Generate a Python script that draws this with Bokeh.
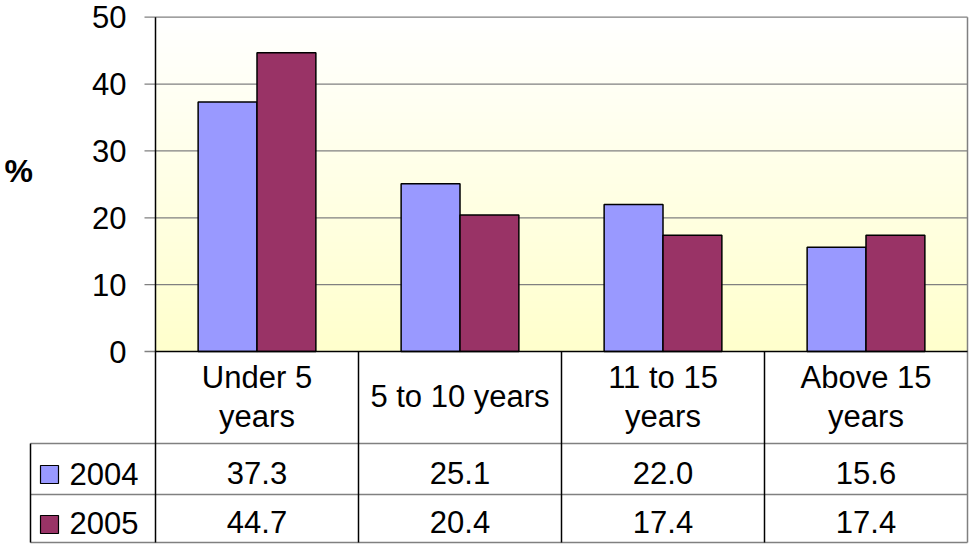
import numpy as np
from bokeh.plotting import figure
from bokeh.models import Range1d
from bokeh.core.properties import value
from bokeh.embed import file_html
from bokeh.resources import INLINE

# ---------------- data ----------------
categories = ["Under 5 years", "5 to 10 years", "11 to 15 years", "Above 15 years"]
category_lines = [["Under 5", "years"], ["5 to 10 years"], ["11 to 15", "years"], ["Above 15", "years"]]
series_names = ["2004", "2005"]
values_2004 = [37.3, 25.1, 22.0, 15.6]
values_2005 = [44.7, 20.4, 17.4, 17.4]
y_ticks = [0, 10, 20, 30, 40, 50]

# ---------------- style / geometry ----------------
FONT = value("Liberation Sans")
FS = "31px"
BLUE = "#9999FF"
RED = "#993366"
GREY = "#808080"

W, H = 969, 545
X0_PX, Y0_PX = 155.0, 351.0      # pixel position of (0, 0)
PX_X = 203.0                     # pixels per category
PX_Y = (351.0 - 16.7) / 50.0     # pixels per % unit
n = len(categories)


def tx(px):
    return (px - X0_PX) / PX_X


def ty(px):
    return (Y0_PX - px) / PX_Y


p = figure(width=W, height=H, output_backend="svg", toolbar_location=None,
           x_range=Range1d(tx(0), tx(W)), y_range=Range1d(ty(H), ty(0)),
           x_axis_location=None, y_axis_location=None,
           min_border_left=0, min_border_right=0, min_border_top=0, min_border_bottom=0)
p.outline_line_color = None
p.background_fill_color = "white"
p.border_fill_color = "white"
p.center = []   # drop default grids

# gradient background of the plot area
N = 200
img = np.empty((N, 1), dtype=np.uint32)
view = img.view(dtype=np.uint8).reshape((N, 1, 4))
for i in range(N):
    f = i / (N - 1)  # 0 bottom, 1 top
    view[i, 0, 0] = 255
    view[i, 0, 1] = 255
    view[i, 0, 2] = int(round(204 + (255 - 204) * f))
    view[i, 0, 3] = 255
p.image_rgba(image=[img], x=0, y=0, dw=n, dh=max(y_ticks), level="image")

# horizontal gridlines and tick marks (tick marks stick out left of the value axis)
grid_y = y_ticks[1:]
p.segment(x0=[tx(144)] * len(grid_y), y0=grid_y, x1=[n] * len(grid_y), y1=grid_y,
          line_color=GREY, line_width=1.3)
p.segment(x0=[tx(144)], y0=[0], x1=[0], y1=[0], line_color=GREY, line_width=1.3)

# bars
idx = np.arange(n)
bw = 0.29
p.vbar(x=idx + 0.5 - bw / 2, top=values_2004, width=bw, bottom=0,
       fill_color=BLUE, line_color="black", line_width=1.5)
p.vbar(x=idx + 0.5 + bw / 2, top=values_2005, width=bw, bottom=0,
       fill_color=RED, line_color="black", line_width=1.5)

# value axis labels
p.text(x=[tx(126)] * len(y_ticks), y=y_ticks, text=[str(v) for v in y_ticks], text_font=FONT,
       text_font_size=FS, text_align="right", text_baseline="middle", text_color="black")
p.text(x=[tx(4)], y=[ty(170)], text=["%"], text_font=FONT, text_font_size="32px",
       text_font_style="bold", text_align="left", text_baseline="middle", text_color="black")

# table geometry (pixels)
tab_left, row1, row2, row3 = 30, 443, 494, 542

# plot-area right border / table right edge
p.segment(x0=[n], y0=[max(y_ticks)], x1=[n], y1=[ty(row3)], line_color=GREY, line_width=1.5)
# table horizontal rules
p.segment(x0=[tx(tab_left)] * 3, y0=[ty(row1), ty(row2), ty(row3)], x1=[n] * 3,
          y1=[ty(row1), ty(row2), ty(row3)], line_color=GREY, line_width=1.5)
# category dividers
p.segment(x0=list(range(1, n)), y0=[0] * (n - 1), x1=list(range(1, n)), y1=[ty(row3)] * (n - 1),
          line_color="black", line_width=1.5)
# legend column left edge
p.segment(x0=[tx(tab_left)], y0=[ty(row1)], x1=[tx(tab_left)], y1=[ty(row3)],
          line_color="black", line_width=1.5)
# value axis line (continues through table)
p.segment(x0=[0], y0=[max(y_ticks)], x1=[0], y1=[ty(row3)], line_color="black", line_width=1.5)
# category axis line
p.segment(x0=[0], y0=[0], x1=[n], y1=[0], line_color="black", line_width=1.5)

# category header text
hx, hy, ht = [], [], []
for i, lines in enumerate(category_lines):
    if len(lines) == 1:
        hx.append(i + 0.5); hy.append(ty(396)); ht.append(lines[0])
    else:
        hx += [i + 0.5, i + 0.5]; hy += [ty(377), ty(416)]; ht += lines
p.text(x=hx, y=hy, text=ht, text_font=FONT, text_font_size=FS, text_align="center",
       text_baseline="middle", text_color="black")

# table values
p.text(x=list(idx + 0.5), y=[ty(472)] * n, text=[f"{v:.1f}" for v in values_2004], text_font=FONT,
       text_font_size=FS, text_align="center", text_baseline="middle", text_color="black")
p.text(x=list(idx + 0.5), y=[ty(521)] * n, text=[f"{v:.1f}" for v in values_2005], text_font=FONT,
       text_font_size=FS, text_align="center", text_baseline="middle", text_color="black")

# legend keys
p.rect(x=[tx(49)] * 2, y=[ty(474), ty(524)], width=18, height=18, width_units="screen",
       height_units="screen", fill_color=[BLUE, RED], line_color="black", line_width=1.2)
p.text(x=[tx(69)] * 2, y=[ty(473), ty(522)], text=series_names, text_font=FONT, text_font_size=FS,
       text_align="left", text_baseline="middle", text_color="black")

open("out.html", "w").write(file_html(p, INLINE))
